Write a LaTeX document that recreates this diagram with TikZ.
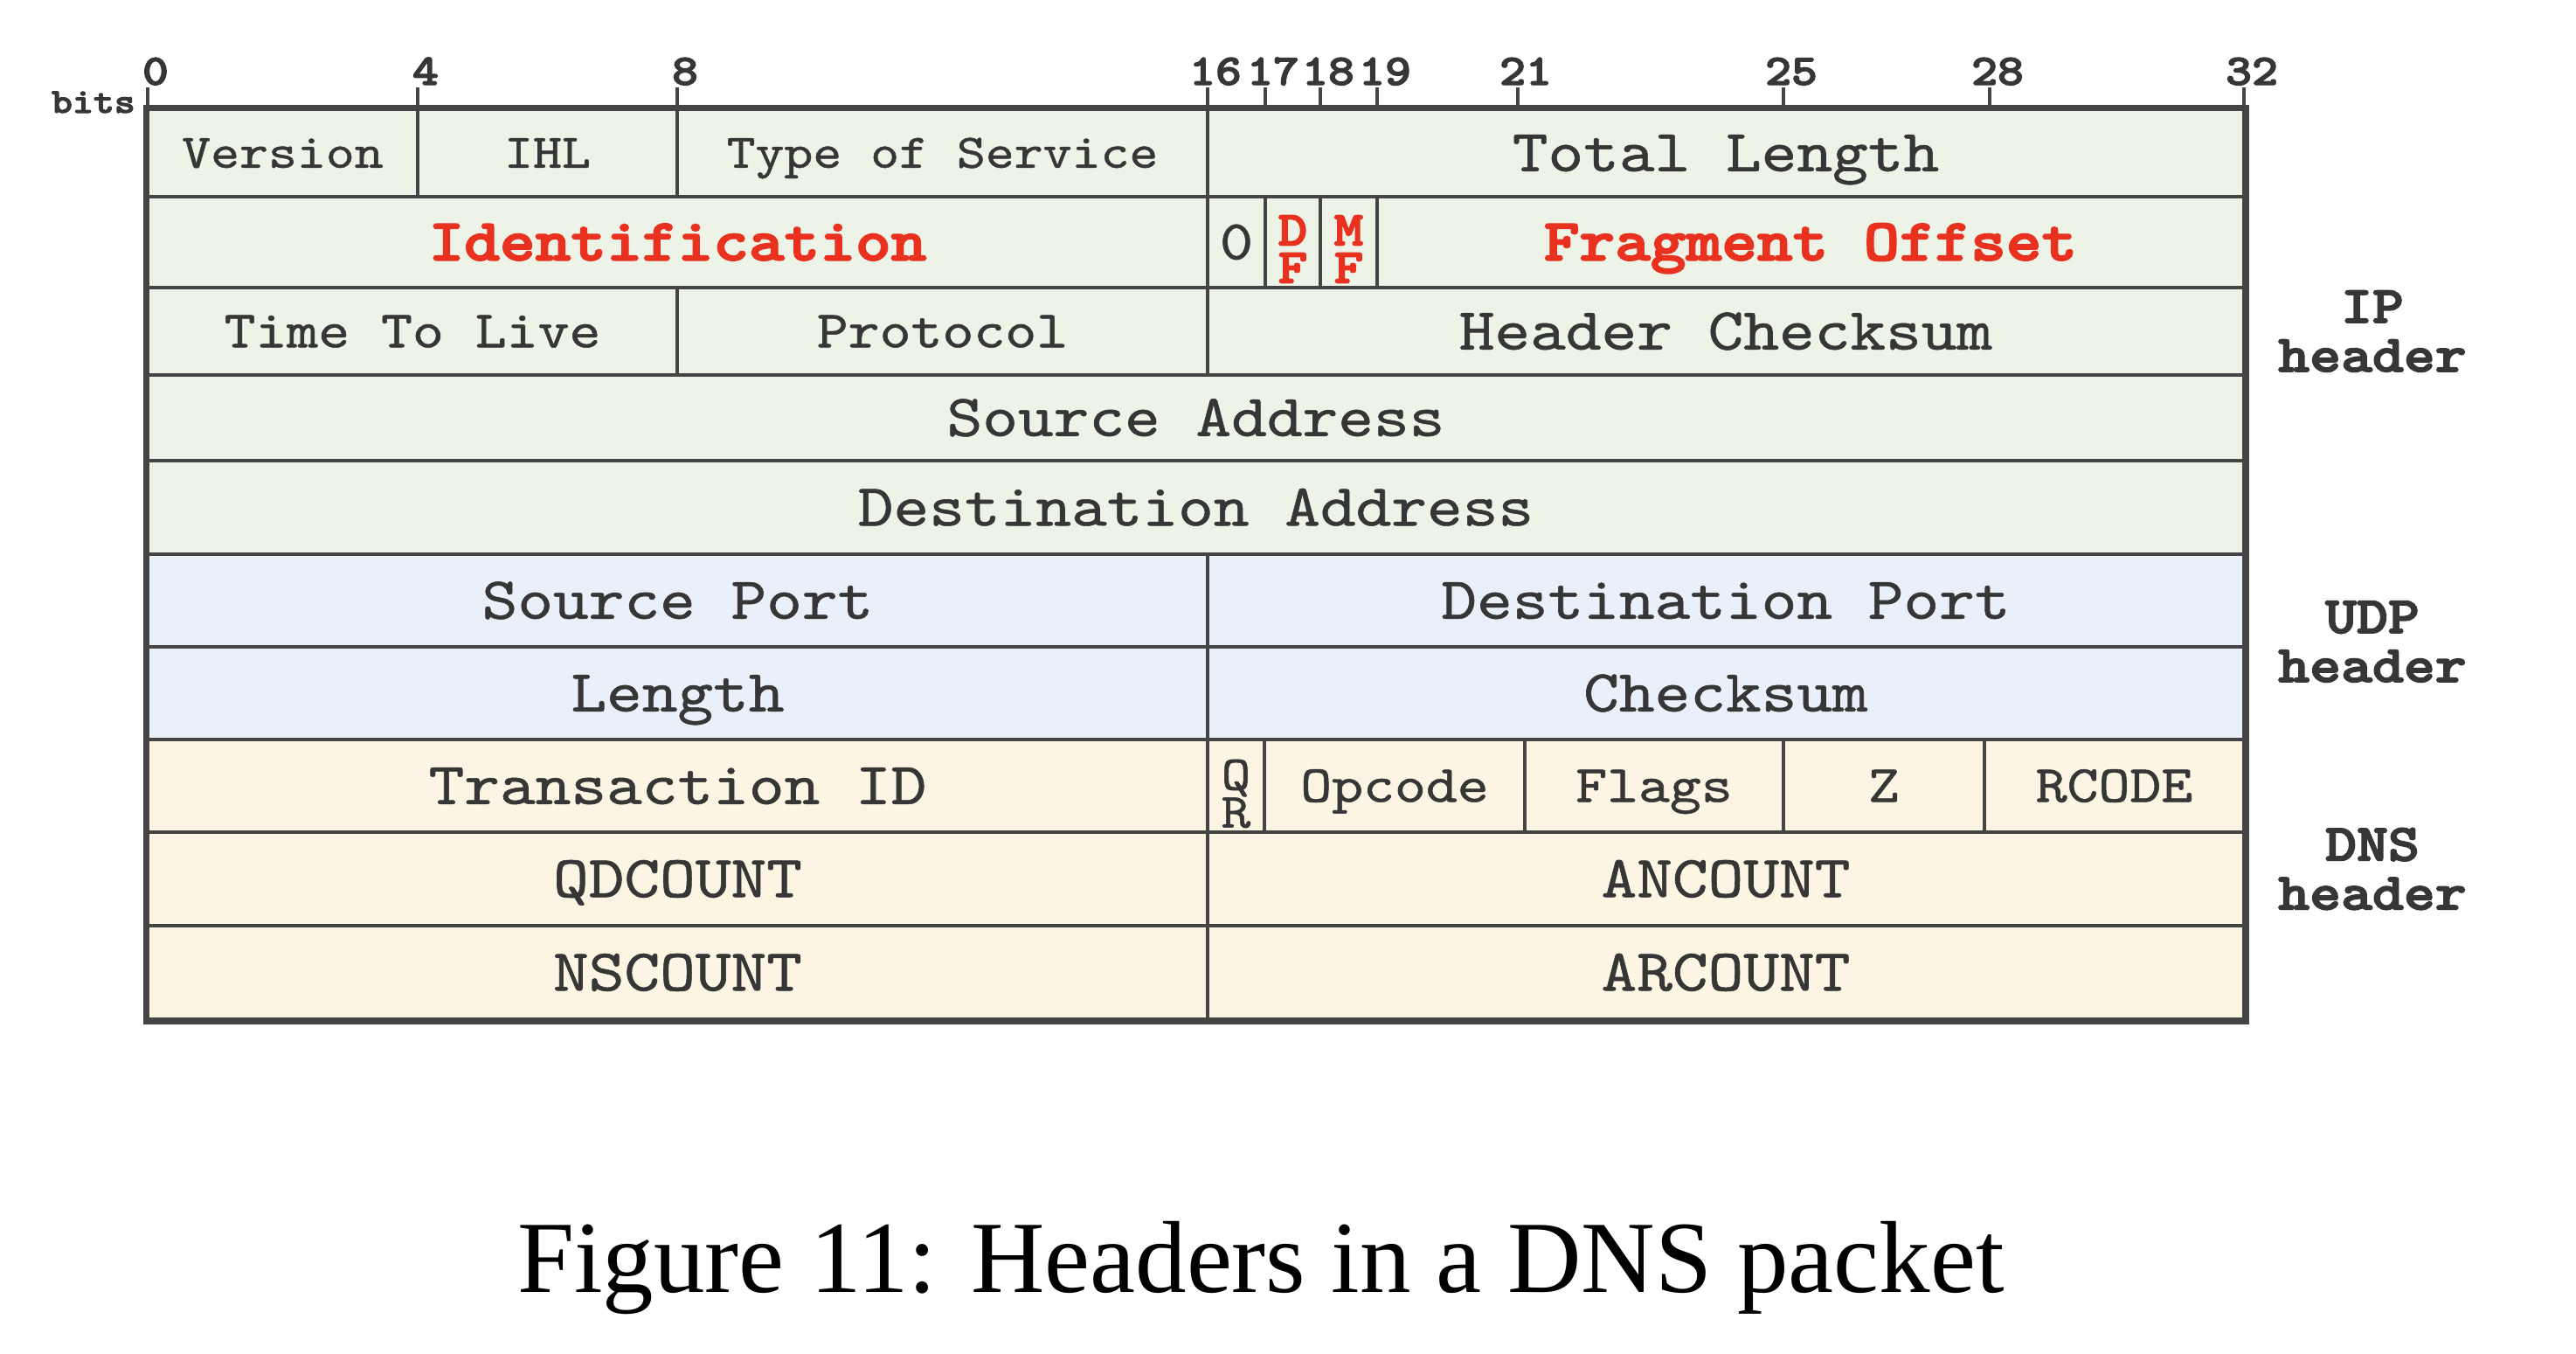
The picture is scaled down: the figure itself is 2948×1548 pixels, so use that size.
\documentclass[tikz,border=0pt]{standalone}
\usepackage{fontspec}
\usepackage{graphicx}
\newfontfamily\capfont{Liberation Serif}
\newfontfamily\ttbf{lmmonolt10-bold.otf}[FakeBold=2.5]
\newfontfamily\ttrg{lmmono10-regular.otf}[FakeBold=0.8]
\usetikzlibrary{calc}
\definecolor{ipc}{HTML}{EEF3E7}
\definecolor{udpc}{HTML}{EAF0F9}
\definecolor{dnsc}{HTML}{FDF5E3}
\definecolor{linec}{HTML}{444444}
\definecolor{txtc}{HTML}{363636}
\definecolor{redc}{HTML}{E8311F}
\newcommand\cw[1]{\scalebox{1.14}[1]{#1}}
\newcommand\mkcell[7]{%
  \node[cell,#6,minimum width=#3pt-#2pt,minimum height=#5pt-#4pt] (#1) at ({(#2+#3)/2},{(#4+#5)/2}) {#7};}
\begin{document}
\begin{tikzpicture}[x=1pt,y=-1pt,
  cell/.style={draw=linec, line width=4.5pt, inner sep=0pt, text=txtc},
  f68/.style={font=\ttrg\fontsize{68}{68}\selectfont, text height=41.5pt, text depth=0pt},
  f64/.style={font=\ttrg\fontsize{64}{64}\selectfont, text height=39pt, text depth=0pt},
  f60/.style={font=\ttrg\fontsize{60}{60}\selectfont, text height=36.7pt, text depth=0pt},
  f55/.style={font=\ttrg\fontsize{55}{55}\selectfont, text height=33.6pt, text depth=0pt},
  b68/.style={font=\ttbf\fontsize{68}{68}\selectfont, text height=41.5pt, text depth=0pt, text=redc},
  stackb/.style={font=\ttbf\fontsize{56}{43}\selectfont, align=center, inner sep=0pt, text=redc},
  stackr/.style={font=\ttrg\fontsize{56}{43}\selectfont, align=center, inner sep=0pt, text=txtc},
  tickline/.style={draw=linec, line width=4.5pt},
  bitn/.style={font=\ttbf\fontsize{50}{50}\selectfont, anchor=base, inner sep=0pt, text=txtc},
  hdr/.style={font=\ttbf\fontsize{60}{56}\selectfont, align=center, inner sep=0pt, text=txtc},
  ip/.style={fill=ipc}, udp/.style={fill=udpc}, dns/.style={fill=dnsc}]
\fill[white] (0,0) rectangle (2948,1548);
\useasboundingbox (0,0) rectangle (2948,1548);
% ticks and bit numbers
\foreach \b/\x in {0/169,4/478,8/775,16/1382,17/1448,18/1511,19/1576,21/1737,25/2041,28/2277,32/2568}{
  \draw[tickline] (\x,100) -- (\x,126);
  \node[bitn] (b\b) at (\x+9,97) {\cw{\b}};
}
\node[anchor=base east, font=\ttbf\fontsize{40}{40}\selectfont, text=txtc, inner sep=0pt] (bits) at (155,129) {\cw{bits}};
% IP header
\mkcell{ver}{169}{478}{125}{225}{ip,f55}{\cw{Version}}
\mkcell{ihl}{478}{775}{125}{225}{ip,f55}{\cw{IHL}}
\mkcell{tos}{775}{1382}{125}{225}{ip,f55}{\cw{Type of Service}}
\mkcell{tlen}{1382}{2568}{125}{225}{ip,f68}{\cw{Total Length}}
\mkcell{ident}{169}{1382}{225}{329}{ip,b68}{\cw{Identification}}
\mkcell{zero}{1382}{1448}{225}{329}{ip,f64}{\cw{0}}
\mkcell{df}{1448}{1511}{225}{329}{ip}{}
\mkcell{mf}{1511}{1576}{225}{329}{ip}{}
\mkcell{frag}{1576}{2568}{225}{329}{ip,b68}{\cw{Fragment Offset}}
\mkcell{ttl}{169}{775}{329}{429}{ip,f60}{\cw{Time To Live}}
\mkcell{proto}{775}{1382}{329}{429}{ip,f60}{\cw{Protocol}}
\mkcell{hcs}{1382}{2568}{329}{429}{ip,f68}{\cw{Header Checksum}}
\mkcell{saddr}{169}{2568}{429}{527}{ip,f68}{\cw{Source Address}}
\mkcell{daddr}{169}{2568}{527}{634}{ip,f68}{\cw{Destination Address}}
% UDP header
\mkcell{sport}{169}{1382}{634}{740}{udp,f68}{\cw{Source Port}}
\mkcell{dport}{1382}{2568}{634}{740}{udp,f68}{\cw{Destination Port}}
\mkcell{ulen}{169}{1382}{740}{846}{udp,f68}{\cw{Length}}
\mkcell{ucks}{1382}{2568}{740}{846}{udp,f68}{\cw{Checksum}}
% DNS header
\mkcell{tid}{169}{1382}{846}{952}{dns,f68}{\cw{Transaction ID}}
\mkcell{qr}{1382}{1447}{846}{952}{dns}{}
\mkcell{opc}{1447}{1745}{846}{952}{dns,f60}{\cw{Opcode}}
\mkcell{flg}{1745}{2041}{846}{952}{dns,f60}{\cw{Flags}}
\mkcell{zz}{2041}{2271}{846}{952}{dns,f60}{\cw{Z}}
\mkcell{rc}{2271}{2568}{846}{952}{dns,f60}{\cw{RCODE}}
\mkcell{qd}{169}{1382}{952}{1059}{dns,f68}{\cw{QDCOUNT}}
\mkcell{an}{1382}{2568}{952}{1059}{dns,f68}{\cw{ANCOUNT}}
\mkcell{ns}{169}{1382}{1059}{1166}{dns,f68}{\cw{NSCOUNT}}
\mkcell{ar}{1382}{2568}{1059}{1166}{dns,f68}{\cw{ARCOUNT}}
% stacked letters
\node[stackb] (dft) at ($(df.center)+(0,8)$) {\cw{D}\\\cw{F}};
\node[stackb] (mft) at ($(mf.center)+(0,8)$) {\cw{M}\\\cw{F}};
\node[stackr] (qrt) at ($(qr.center)+(0,9)$) {\cw{Q}\\\cw{R}};
% outer border
\draw[linec, line width=6.5pt] (ver.north west) rectangle (ar.south east);
% side labels
\node[hdr] (iplbl) at (2715,379) {\cw{IP}\\\cw{header}};
\node[hdr] (udplbl) at (2715,734) {\cw{UDP}\\\cw{header}};
\node[hdr] (dnslbl) at (2715,994) {\cw{DNS}\\\cw{header}};
% caption
\node[anchor=base, font=\capfont\fontsize{117}{117}\selectfont, inner sep=0pt] (caption) at (1443,1478) {Figure 11: Headers in a DNS packet};
\end{tikzpicture}
\end{document}
